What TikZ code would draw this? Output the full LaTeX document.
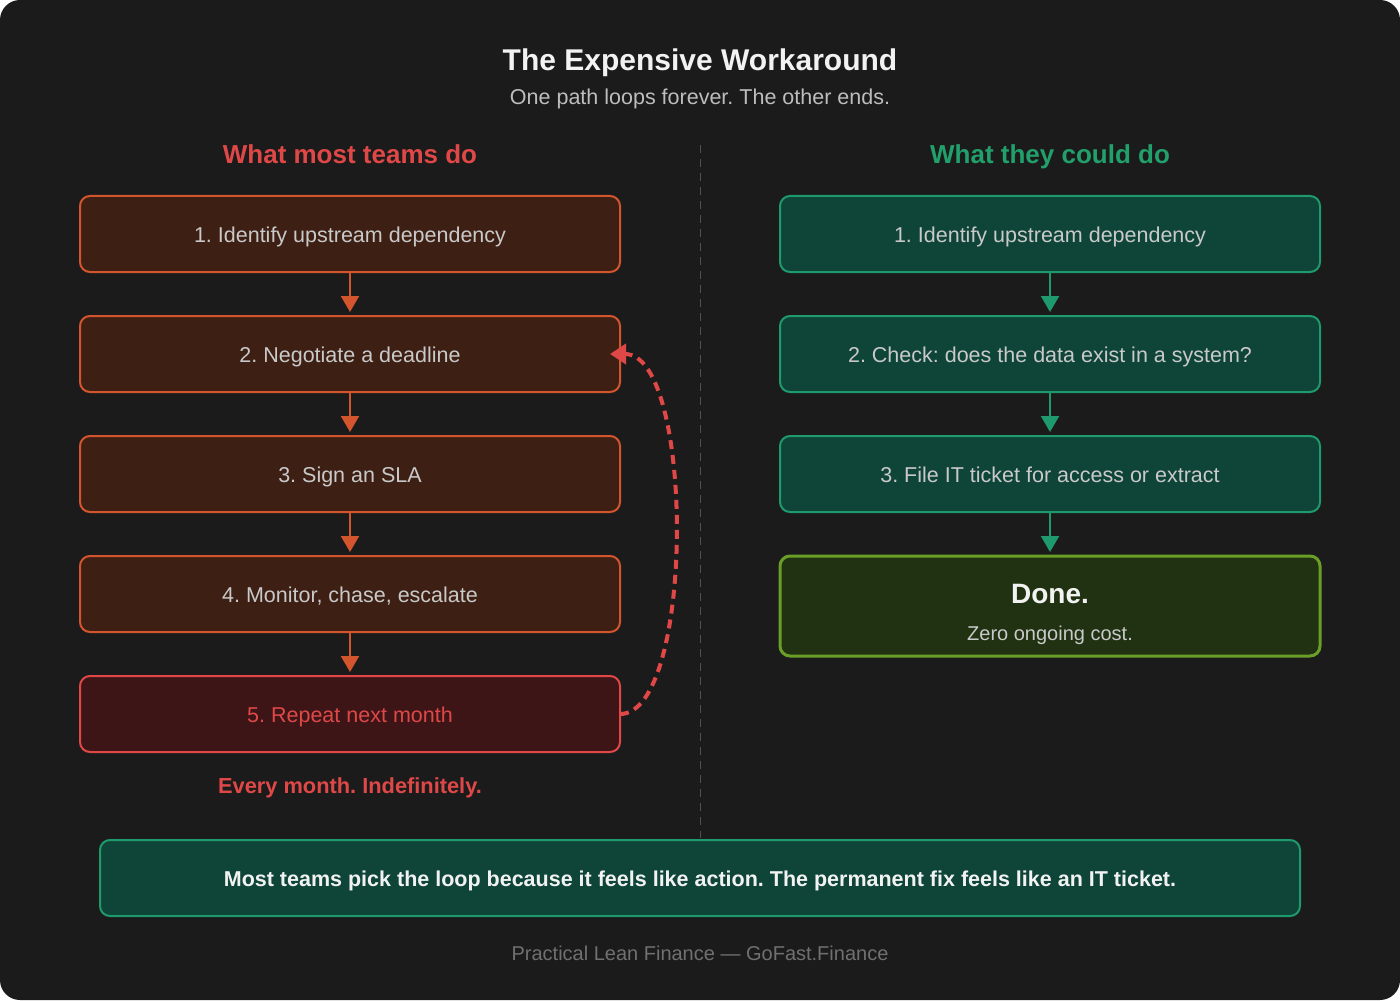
\documentclass[tikz,border=0pt]{standalone}
\usepackage{fontspec}
\setmainfont{Liberation Sans}
\frenchspacing
\definecolor{canvasbg}{HTML}{1B1B1B}
\definecolor{titletext}{HTML}{F2F2F2}
\definecolor{subtext}{HTML}{BDBDBD}
\definecolor{boxtext}{HTML}{C9C9C9}
\definecolor{loopred}{HTML}{E04848}
\definecolor{loopborder}{HTML}{D2552D}
\definecolor{loopfill}{HTML}{3D1F14}
\definecolor{repeatfill}{HTML}{3D1517}
\definecolor{fixgreen}{HTML}{22A06B}
\definecolor{fixborder}{HTML}{1E9A6C}
\definecolor{fixfill}{HTML}{0E4538}
\definecolor{donefill}{HTML}{203211}
\definecolor{doneborder}{HTML}{6A9E26}
\definecolor{dividergray}{HTML}{505050}
\definecolor{footergray}{HTML}{707070}
\usetikzlibrary{arrows.meta,positioning}

\begin{document}
\begin{tikzpicture}[
        x=0.5pt, y=-0.5pt,
        node distance=22pt,
        loopbox/.style={rectangle, draw=loopborder, fill=loopfill, line width=1pt,
                    minimum width=270pt, minimum height=38pt, outer sep=0pt,
                    align=center, rounded corners=5pt, text=boxtext,
                    text height=10.5pt, text depth=2.3pt,
                    font=\fontsize{10.75}{13}\selectfont},
        fixbox/.style={loopbox, draw=fixborder, fill=fixfill},
        heading/.style={anchor=base, font=\fontsize{13}{16}\selectfont\bfseries},
        arrow/.style={-{Triangle[width=9pt,length=8pt]}, line width=1pt, shorten >=2pt}
    ]
        % canvas
        \fill[white] (0,0) rectangle (1400,1000);
        \fill[canvasbg, rounded corners=10pt] (0,0) rectangle (1400,1000);
        \useasboundingbox (0,0) rectangle (1400,1000);

        \node[font=\fontsize{15}{18}\selectfont\bfseries, text=titletext] (title) at (700,63)
            {The Expensive Workaround};
        \node[font=\fontsize{10.75}{13}\selectfont, text=subtext] (subtitle) at (700,99)
            {One path loops forever. The other ends.};

        \draw[dividergray, line width=0.5pt, dash pattern=on 4pt off 3pt] (700,145) -- (700,838);

        % left column
        \node[heading, text=loopred] (lhead) at (350,164) {What most teams do};
        \node[loopbox] (l1) at (350,234) {1. Identify upstream dependency};
        \node[loopbox, below=of l1] (l2) {2. Negotiate a deadline};
        \node[loopbox, below=of l2] (l3) {3. Sign an SLA};
        \node[loopbox, below=of l3] (l4) {4. Monitor, chase, escalate};
        \node[loopbox, below=of l4, fill=repeatfill, draw=loopred, text=loopred] (l5)
            {5. Repeat next month};
        \node[font=\fontsize{10.9}{13}\selectfont\bfseries, text=loopred] (lnote) at (350,788)
            {Every month. Indefinitely.};

        \draw[arrow, loopborder] (l1) -- (l2);
        \draw[arrow, loopborder] (l2) -- (l3);
        \draw[arrow, loopborder] (l3) -- (l4);
        \draw[arrow, loopborder] (l4) -- (l5);
        \draw[-{Triangle[width=10pt,length=8pt]}, loopred, line width=2pt,
              dash pattern=on 4.5pt off 3pt]
            (l5.east) .. controls +(75,0) and +(85,0) .. ([xshift=-5pt]l2.east);

        % right column
        \node[heading, text=fixgreen] (rhead) at (1050,164) {What they could do};
        \node[fixbox, right=80pt of l1] (r1) {1. Identify upstream dependency};
        \node[fixbox, below=of r1] (r2) {2. Check: does the data exist in a system?};
        \node[fixbox, below=of r2] (r3) {3. File IT ticket for access or extract};
        \node[fixbox, below=of r3, minimum height=50pt, fill=donefill, draw=doneborder,
              line width=1.5pt] (done) {};
        \node[anchor=base, font=\fontsize{14}{17}\selectfont\bfseries, text=titletext]
            (donetitle) at ([yshift=1.5pt]done.center) {Done.};
        \node[anchor=base, font=\fontsize{10}{12}\selectfont, text=boxtext]
            (donenote) at ([yshift=-17pt]done.center) {Zero ongoing cost.};

        \draw[arrow, fixborder] (r1) -- (r2);
        \draw[arrow, fixborder] (r2) -- (r3);
        \draw[arrow, fixborder] (r3) -- (done);

        % bottom
        \node[fixbox, minimum width=600pt, text=titletext,
              font=\fontsize{10.75}{13}\selectfont\bfseries] (moral) at (700,878)
            {Most teams pick the loop because it feels like action. The permanent fix feels like an IT ticket.};
        \node[font=\fontsize{10}{12}\selectfont, text=footergray] (footer) at (700,953)
            {Practical Lean Finance — GoFast.Finance};
    \end{tikzpicture}
\end{document}
